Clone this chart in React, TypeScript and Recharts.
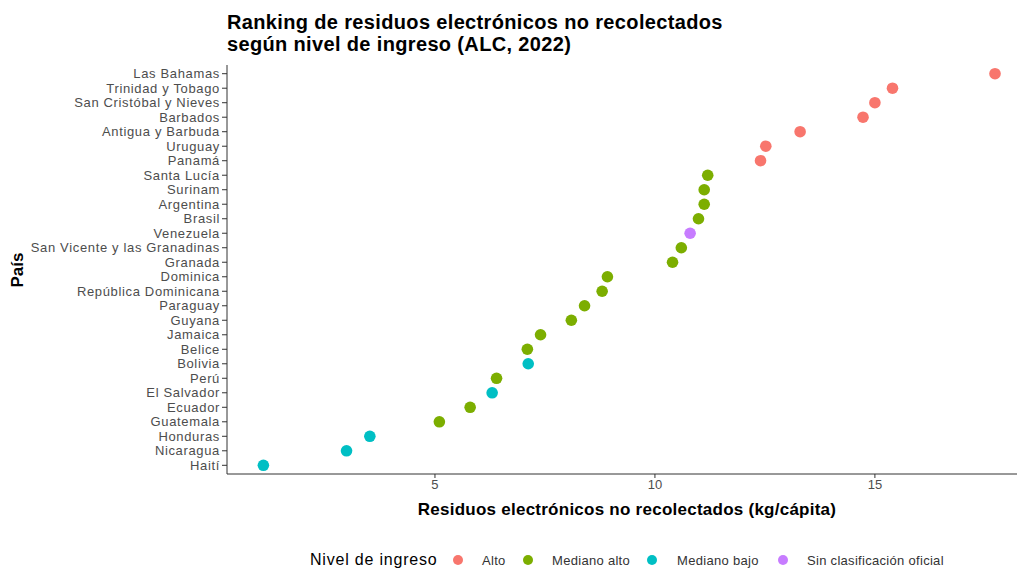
import React from 'react';
import { ScatterChart, Scatter, XAxis, YAxis } from 'recharts';

const countries = [
  'Las Bahamas', 'Trinidad y Tobago', 'San Cristóbal y Nieves', 'Barbados', 'Antigua y Barbuda',
  'Uruguay', 'Panamá', 'Santa Lucía', 'Surinam', 'Argentina', 'Brasil', 'Venezuela',
  'San Vicente y las Granadinas', 'Granada', 'Dominica', 'República Dominicana', 'Paraguay',
  'Guyana', 'Jamaica', 'Belice', 'Bolivia', 'Perú', 'El Salvador', 'Ecuador', 'Guatemala',
  'Honduras', 'Nicaragua', 'Haití',
];

const values = [
  17.73, 15.4, 15.0, 14.73, 13.3,
  12.52, 12.4, 11.2, 11.12, 11.12, 10.99, 10.8,
  10.6, 10.4, 8.92, 8.8, 8.4,
  8.1, 7.4, 7.1, 7.12, 6.4, 6.3, 5.8, 5.1,
  3.52, 2.99, 1.1,
];

const groups = [
  'Alto', 'Alto', 'Alto', 'Alto', 'Alto',
  'Alto', 'Alto', 'Mediano alto', 'Mediano alto', 'Mediano alto', 'Mediano alto', 'Sin clasificación oficial',
  'Mediano alto', 'Mediano alto', 'Mediano alto', 'Mediano alto', 'Mediano alto',
  'Mediano alto', 'Mediano alto', 'Mediano alto', 'Mediano bajo', 'Mediano alto', 'Mediano bajo', 'Mediano alto', 'Mediano alto',
  'Mediano bajo', 'Mediano bajo', 'Mediano bajo',
];

const levels = ['Alto', 'Mediano alto', 'Mediano bajo', 'Sin clasificación oficial'];
const colors = ['#F8766D', '#7CAE00', '#00BFC4', '#C77CFF'];
const xTicks = [5, 10, 15];

const rows = countries.map((c, i) => ({ country: c, x: values[i], y: i, group: groups[i] }));
const yTicks = countries.map((_, i) => i);

const FONT = '"Liberation Sans", Arial, Helvetica, sans-serif';

const legendDots = [458, 528, 652, 783];
const legendTexts = [482, 552, 677, 807];

export default function App() {
  return (
    <div style={{ position: 'fixed', left: 0, top: 0, width: 1017, height: 569, background: '#fff', fontFamily: FONT, overflow: 'hidden' }}>
      <ScatterChart width={1017} height={569} margin={{ top: 65, right: 0, bottom: 0, left: 0 }}>
        <XAxis
          type="number"
          dataKey="x"
          domain={[0.273, 18.23]}
          ticks={xTicks}
          allowDataOverflow
          height={95}
          tickSize={4}
          tickMargin={2}
          stroke="#333"
          tick={{ fontSize: 13, fill: '#4d4d4d', fontFamily: FONT }}
        />
        <YAxis
          type="number"
          dataKey="y"
          reversed
          domain={[-0.6, 27.6]}
          ticks={yTicks}
          interval={0}
          allowDataOverflow
          width={227}
          tickSize={5}
          tickMargin={2}
          stroke="#333"
          tickFormatter={(v: number) => countries[v] ?? ''}
          tick={{ fontSize: 13, fill: '#4d4d4d', fontFamily: FONT, letterSpacing: 0.65 }}
        />
        {levels.map((lv, li) => (
          <Scatter
            key={lv}
            data={rows.filter((r) => r.group === lv)}
            isAnimationActive={false}
            fill={colors[li]}
            shape={(p: any) => <circle cx={p.cx} cy={p.cy} r={5.8} fill={colors[li]} />}
          />
        ))}
      </ScatterChart>

      <div style={{ position: 'absolute', left: 227, top: 11, fontSize: 20, fontWeight: 'bold', lineHeight: '22px', letterSpacing: 0.35, color: '#000', whiteSpace: 'nowrap' }}>
        Ranking de residuos electrónicos no recolectados<br />según nivel de ingreso (ALC, 2022)
      </div>

      <div style={{ position: 'absolute', left: 627, top: 510, transform: 'translate(-50%, -50%)', fontSize: 17, fontWeight: 'bold', letterSpacing: 0.25, color: '#000', whiteSpace: 'nowrap' }}>
        Residuos electrónicos no recolectados (kg/cápita)
      </div>

      <div style={{ position: 'absolute', left: 18, top: 270, transform: 'translate(-50%, -50%) rotate(-90deg)', fontSize: 17, fontWeight: 'bold', color: '#000', whiteSpace: 'nowrap' }}>
        País
      </div>

      <div style={{ position: 'absolute', left: 310, top: 560, transform: 'translateY(-50%)', fontSize: 16, letterSpacing: 0.8, color: '#000', whiteSpace: 'nowrap' }}>
        Nivel de ingreso
      </div>
      {levels.map((lv, li) => (
        <React.Fragment key={lv}>
          <div style={{ position: 'absolute', left: legendDots[li] - 5, top: 555, width: 10, height: 10, borderRadius: 5, background: colors[li] }} />
          <div style={{ position: 'absolute', left: legendTexts[li], top: 560, transform: 'translateY(-50%)', fontSize: 13, letterSpacing: 0.3, color: '#333', whiteSpace: 'nowrap' }}>
            {lv}
          </div>
        </React.Fragment>
      ))}
    </div>
  );
}
